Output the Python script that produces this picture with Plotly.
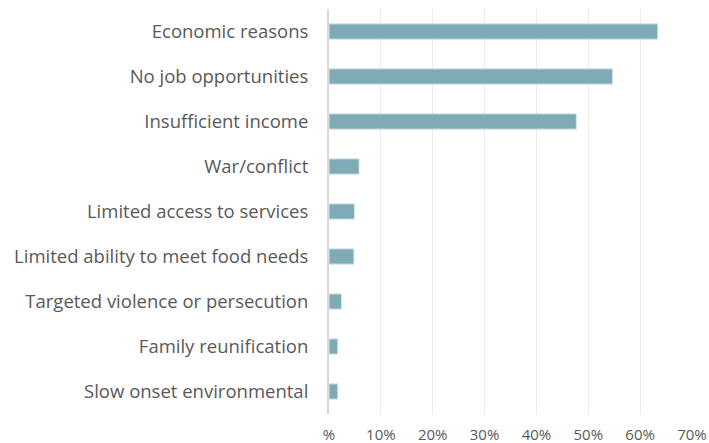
import plotly.graph_objects as go

# ---- data ----
reasons = [
    "Economic reasons",
    "No job opportunities",
    "Insufficient income",
    "War/conflict",
    "Limited access to services",
    "Limited ability to meet food needs",
    "Targeted violence or persecution",
    "Family reunification",
    "Slow onset environmental",
]
share = [63.4, 54.7, 47.7, 5.8, 4.9, 4.8, 2.4, 1.7, 1.7]

tick_vals = [0, 10, 20, 30, 40, 50, 60, 70]
tick_text = ["%", "10%", "20%", "30%", "40%", "50%", "60%", "70%"]

fig = go.Figure(go.Bar(
    x=share,
    y=reasons,
    orientation="h",
    marker=dict(color="#7eabb6", line=dict(color="#d6e6ea", width=1)),
))

fig.update_layout(
    width=709, height=443,
    margin=dict(l=329, r=17, t=9, b=29, autoexpand=False),
    paper_bgcolor="white",
    plot_bgcolor="white",
    bargap=0.66,
    showlegend=False,
    font=dict(family="Open Sans, sans-serif", color="#595959", size=16),
)

fig.update_xaxes(
    range=[0, 70],
    tickvals=tick_vals,
    ticktext=tick_text,
    showgrid=True,
    gridcolor="#ebebeb",
    gridwidth=1,
    zeroline=False,
    showline=False,
    tickfont=dict(size=15),
    ticklabelstandoff=10,
    ticklabeloverflow="allow",
    automargin=False,
)

fig.update_yaxes(
    categoryorder="array",
    categoryarray=reasons[::-1],
    showline=True,
    linecolor="#d9d9d9",
    linewidth=2,
    showgrid=False,
    ticks="",
    ticklabelstandoff=15,
    tickfont=dict(size=18.5),
    automargin=False,
)

# drop the page's default body margin so the figure fills the window exactly
fig.write_html(
    "out.html",
    config={"displayModeBar": False},
    post_script="document.body.style.margin='0';document.body.style.overflow='hidden';",
)
